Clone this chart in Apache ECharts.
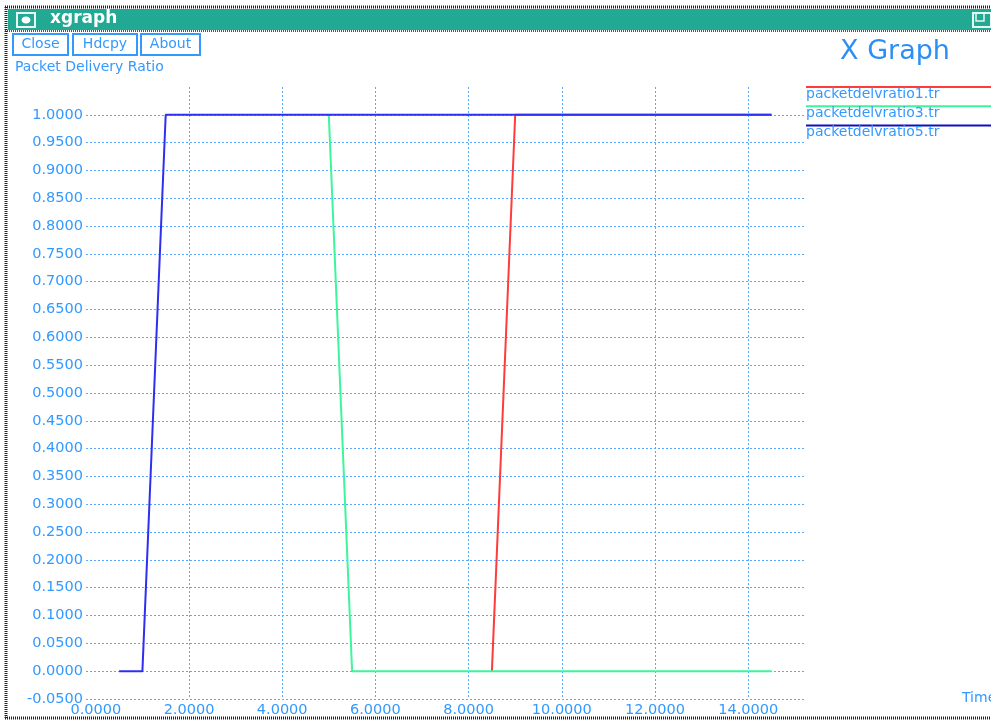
<!DOCTYPE html>
<html>
<head>
<meta charset="utf-8">
<script src="https://cdn.jsdelivr.net/npm/echarts@6/dist/echarts.min.js"></script>
<style>
html,body{margin:0;padding:0;background:#fff;overflow:hidden;}
#chart{width:991px;height:720px;}
</style>
</head>
<body>
<div id="chart"></div>
<script>
// ---- data ----
const seriesNames = ['packetdelvratio1.tr', 'packetdelvratio3.tr', 'packetdelvratio5.tr'];
const ratio1Time  = [8.5, 9.0, 14.5];
const ratio1Value = [0.0, 1.0, 1.0];
const ratio3Time  = [5.0, 5.5, 14.5];
const ratio3Value = [1.0, 0.0, 0.0];
const ratio5Time  = [0.5, 1.0, 1.5, 14.5];
const ratio5Value = [0.0, 0.0, 1.0, 1.0];
const buttonLabels = ['Close', 'Hdcpy', 'About'];
const yAxisTitle = 'Packet Delivery Ratio';
const xAxisTitle = 'Time';
const windowTitle = 'xgraph';
const graphTitle = 'X Graph';

// ---- styles ----
const textBlue = '#3399ff';
const gridBlue = '#5aa8ff';
const lineColors = ['#ff3b3b', '#3cf59c', '#2f2ff2'];
const legendColors = ['#ff3b3b', '#3cf59c', '#1010c0'];
const FONT = '"DejaVu Sans", Verdana, sans-serif';

function pairs(xs, ys) { return xs.map((x, i) => [x, ys[i]]); }
const seriesData = [pairs(ratio1Time, ratio1Value), pairs(ratio3Time, ratio3Value), pairs(ratio5Time, ratio5Value)];

const chart = echarts.init(document.getElementById('chart'), null, {renderer: 'canvas'});

const graphics = [];
// window chrome
graphics.push({type: 'line', shape: {x1: 5, y1: 7, x2: 991, y2: 7}, style: {stroke: '#222', lineWidth: 3, lineDash: [1, 1]}, silent: true});
graphics.push({type: 'rect', shape: {x: 8, y: 9, width: 983, height: 21}, style: {fill: '#21a993'}, silent: true});
graphics.push({type: 'line', shape: {x1: 5, y1: 31, x2: 991, y2: 31}, style: {stroke: '#555', lineWidth: 2, lineDash: [1, 1]}, silent: true});
graphics.push({type: 'line', shape: {x1: 6, y1: 7, x2: 6, y2: 719}, style: {stroke: '#222', lineWidth: 3, lineDash: [1, 1]}, silent: true});
graphics.push({type: 'line', shape: {x1: 5, y1: 718, x2: 991, y2: 718}, style: {stroke: '#222', lineWidth: 3, lineDash: [1, 1]}, silent: true});
// title bar icon
graphics.push({type: 'rect', shape: {x: 17, y: 13, width: 18, height: 14}, style: {fill: 'none', stroke: '#e8f5f2', lineWidth: 2}, silent: true});
graphics.push({type: 'ellipse', shape: {cx: 26, cy: 20, rx: 4.5, ry: 3.5}, style: {fill: '#ffffff'}, silent: true});
graphics.push({type: 'text', left: 50, top: 10, style: {text: windowTitle, fill: '#ffffff', font: 'bold 17px ' + FONT}, silent: true});
// right title bar icon
graphics.push({type: 'rect', shape: {x: 973, y: 13, width: 18, height: 14}, style: {fill: 'none', stroke: '#e8f5f2', lineWidth: 2}, silent: true});
graphics.push({type: 'rect', shape: {x: 976, y: 13, width: 8, height: 8}, style: {fill: 'none', stroke: '#e8f5f2', lineWidth: 1.5}, silent: true});
// buttons
const btnX = [13, 73, 141];
const btnW = [55, 64, 59];
buttonLabels.forEach((b, i) => {
  graphics.push({type: 'rect', shape: {x: btnX[i], y: 34, width: btnW[i], height: 21}, style: {fill: 'none', stroke: textBlue, lineWidth: 2}, silent: true});
  graphics.push({type: 'text', x: btnX[i] + btnW[i] / 2, y: 44.5, style: {text: b, fill: textBlue, font: '14px ' + FONT, textAlign: 'center', textVerticalAlign: 'middle'}, silent: true});
});
graphics.push({type: 'text', x: 15, y: 67, style: {text: yAxisTitle, fill: textBlue, font: '14px ' + FONT, textVerticalAlign: 'middle'}, silent: true});
graphics.push({type: 'text', x: 895, y: 52, style: {text: graphTitle, fill: '#2b8ff5', font: '27px ' + FONT, textAlign: 'center', textVerticalAlign: 'middle'}, silent: true});
graphics.push({type: 'text', x: 962, y: 698, style: {text: xAxisTitle, fill: textBlue, font: '14px ' + FONT, textVerticalAlign: 'middle'}, silent: true});
// legend
seriesNames.forEach((n, i) => {
  const y = 87 + 19.3 * i;
  graphics.push({type: 'line', shape: {x1: 806, y1: y, x2: 991, y2: y}, style: {stroke: legendColors[i], lineWidth: 2}, silent: true});
  graphics.push({type: 'text', x: 806, y: y + 7, style: {text: n, fill: textBlue, font: '14px ' + FONT, textVerticalAlign: 'middle'}, silent: true});
});

const option = {
  animation: false,
  backgroundColor: '#ffffff',
  grid: [
    {left: 86, right: 186, top: 87, bottom: 21, containLabel: false},
    {left: 95.8, right: 149.6, top: 87, bottom: 21, containLabel: false}
  ],
  xAxis: [
    {gridIndex: 0, type: 'value', min: 0, max: 1, show: false},
    {gridIndex: 1, type: 'value', min: 0, max: 16, interval: 2,
      axisLine: {show: false}, axisTick: {show: false},
      axisLabel: {color: textBlue, fontFamily: FONT, fontSize: 14.5, margin: 4, showMaxLabel: false,
        formatter: v => (v > 15 ? '' : v.toFixed(4))},
      splitLine: {show: true, showMinLine: false, showMaxLine: false, lineStyle: {color: gridBlue, type: [2, 2], width: 1}}
    }
  ],
  yAxis: [
    {gridIndex: 0, type: 'value', min: -0.05, max: 1.05, interval: 0.05,
      axisLine: {show: false}, axisTick: {show: false},
      axisLabel: {color: textBlue, fontFamily: FONT, fontSize: 14.5, margin: 3, showMaxLabel: false,
        formatter: v => (v > 1.001 ? '' : v.toFixed(4))},
      splitLine: {show: true, showMaxLine: false, lineStyle: {color: gridBlue, type: [2, 2], width: 1}}
    },
    {gridIndex: 1, type: 'value', min: -0.05, max: 1.05, show: false, splitLine: {show: false}}
  ],
  series: seriesNames.map((n, i) => ({
    name: n, type: 'line', xAxisIndex: 1, yAxisIndex: 1,
    data: seriesData[i], showSymbol: false, symbol: 'none',
    lineStyle: {color: lineColors[i], width: 2}, itemStyle: {color: lineColors[i]},
    z: 2 + i
  })),
  graphic: graphics
};
chart.setOption(option);
</script>
</body>
</html>
